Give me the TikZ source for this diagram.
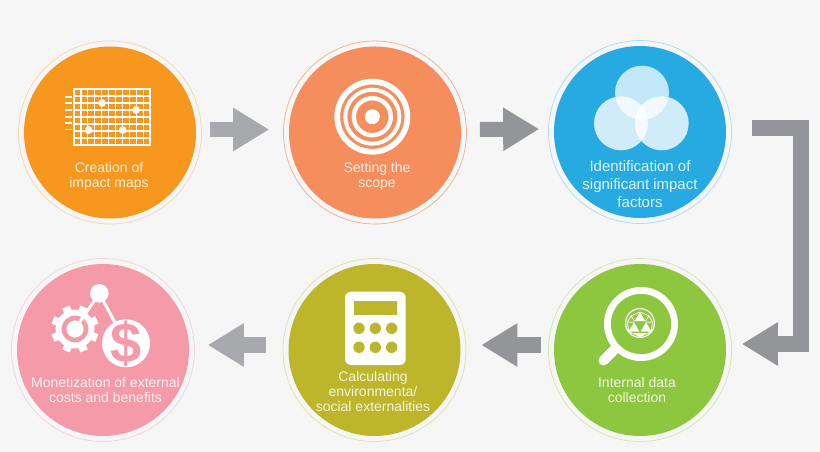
\documentclass[tikz,border=0pt]{standalone}
\usepackage{fontspec}
\setmainfont{Liberation Sans}
\usetikzlibrary{arrows.meta}

\definecolor{pagebg}{HTML}{F6F6F6}
\definecolor{orangefill}{HTML}{F7971D}
\definecolor{orangering}{HTML}{F6D5AC}
\definecolor{salmonfill}{HTML}{F68D5C}
\definecolor{salmonring}{HTML}{F0AE90}
\definecolor{bluefill}{HTML}{27AAE1}
\definecolor{bluering}{HTML}{A9DCF0}
\definecolor{pinkfill}{HTML}{F49AA8}
\definecolor{pinkring}{HTML}{F2D3D8}
\definecolor{olivefill}{HTML}{BDB52A}
\definecolor{olivering}{HTML}{DFDDB0}
\definecolor{greenfill}{HTML}{8DC63F}
\definecolor{greenring}{HTML}{CFE5B0}
\definecolor{arrowlight}{HTML}{A7A9AC}
\definecolor{arrowdark}{HTML}{939598}

\begin{document}
\begin{tikzpicture}[x=1pt, y=-1pt]

%DISTANCE SETTINGS
\tikzstyle{ring}=[circle, inner sep=0pt, minimum size=183pt, line width=.7pt]
\tikzstyle{disc}=[circle, inner sep=0pt, minimum size=172pt]
\tikzstyle{caption}=[text=white, font=\fontsize{14}{15}\selectfont, align=center, inner sep=0pt, opacity=.85]
\tikzstyle{bigarrow}=[line width=16pt, -{Triangle[length=36pt, width=41pt]}]

\useasboundingbox[fill=pagebg] (0,0) rectangle (820,452);

%NODES
\node[ring, draw=orangering] (imap) at (110,132.5) {};
\node[ring, draw=salmonring] (scope) at (375,132.5) {};
\node[ring, draw=bluering] (factor) at (640,132) {};
\node[ring, draw=greenring] (intern) at (640,350) {};
\node[ring, draw=olivering] (calc) at (374.5,350) {};
\node[ring, draw=pinkring] (money) at (103,350) {};

\node[disc, fill=orangefill] (imapdisc) at (imap) {};
\node[disc, fill=salmonfill] (scopedisc) at (scope) {};
\node[disc, fill=bluefill] (factordisc) at (factor) {};
\node[disc, fill=greenfill] (interndisc) at (intern) {};
\node[disc, fill=olivefill] (calcdisc) at (calc) {};
\node[disc, fill=pinkfill] (moneydisc) at (money) {};

%CAPTIONS
\node[caption] (imaptext) at (109,176.5) {Creation of\\impact maps};
\node[caption] (scopetext) at (377,176.5) {Setting the\\scope};
\node[caption, font=\fontsize{15}{18}\selectfont] (factortext) at (640,184) {Identification of\\significant impact\\factors};
\node[caption] (interntext) at (637,389.5) {Internal data\\collection};
\node[caption] (calctext) at (373,391) {Calculating\\environmenta/\\social externalities};
\node[caption] (moneytext) at (105.5,389.5) {Monetization of external\\costs and benefits};

%ARROWS
\coordinate (bendtop) at (801,128);
\coordinate (bendlow) at (801,344);
\draw[bigarrow, arrowlight, line width=15pt, shorten <=8pt, shorten >=14pt] ([yshift=3pt]imap.east) -- ([yshift=3pt]scope.west);
\draw[bigarrow, arrowdark, line width=15pt, shorten <=13pt, shorten >=9pt] ([yshift=3pt]scope.east) -- ([yshift=3pt]factor.west);
\draw[bigarrow, arrowdark, miter limit=4, shorten <=20pt, shorten >=10pt] (factor.east |- bendtop) -- (bendtop) -- (bendlow) -- (intern.east |- bendlow);
\draw[bigarrow, arrowdark, shorten <=7pt, shorten >=15pt] ([yshift=5pt]intern.west) -- ([yshift=5pt]calc.east);
\draw[bigarrow, arrowlight, shorten <=17pt, shorten >=13pt] ([yshift=5pt]calc.west) -- ([yshift=5pt]money.east);

%GRID ICON
\draw[white, line width=1.2pt] (74,89) rectangle (150,145);
\foreach \i in {1,...,10} {
	\draw[white, line width=1.2pt] (74+6.91*\i,89) -- (74+6.91*\i,145);
}
\foreach \i in {1,...,7} {
	\draw[white, line width=1.2pt] (74,89+7*\i) -- (150,89+7*\i);
}
\foreach \y in {96.7,103,110,116.7,123,129.5} {
	\draw[white, line width=1.7pt] (65,\y) -- (71.5,\y);
}
\foreach \x/\y in {102/103,136/110,88.7/130,122.7/130} {
	\fill[white] (\x,\y) circle (3.9);
}

%TARGET ICON
\draw[white, line width=5.7pt] (372.3,116.7) circle (35.1);
\draw[white, line width=4pt] (372.3,116.7) circle (27);
\draw[white, line width=4.4pt] (372.3,116.7) circle (18.5);
\fill[white] (372.3,116.7) circle (7.5);

%VENN ICON
\fill[white, opacity=.72] (642,92.7) circle (27);
\fill[white, opacity=.78] (621,123.3) circle (27);
\fill[white, opacity=.78] (661.7,123.3) circle (27);

%LENS ICON
\draw[white, line width=6.8pt] (641,324) circle (33.6);
\draw[white, line width=10pt, line cap=round] (614,350) -- (603.5,360.5);
\draw[white, line width=1.2pt] (640,323) circle (14.4);
\foreach \x/\y in {640/312,634/322.3,646/322.3} {
	\fill[white] (\x,\y) -- (\x+5.4,\y+9.2) -- (\x-5.4,\y+9.2) -- cycle;
}
\fill[white] (632,333.2) -- (648,333.2) -- (640,337.2) -- cycle;
\draw[white, line width=.8pt] (640,312) -- (631,316) -- (627.5,322) -- (628.6,331) -- (632,333.2);
\draw[white, line width=.8pt] (640,312) -- (649,316) -- (652.5,322) -- (651.4,331) -- (648,333.2);
\draw[white, line width=.8pt] (634.6,321.2) -- (631,316) (645.4,321.2) -- (649,316) (634,322.3) -- (627.5,322) (646,322.3) -- (652.5,322);

%CALCULATOR ICON
\fill[white, rounded corners=6pt] (345,291.7) rectangle (405.7,365);
\fill[olivefill] (354,301) rectangle (396.7,315);
\foreach \x in {359,375.3,391.7} {
	\foreach \y in {328.3,347.3} {
		\fill[olivefill] (\x,\y) circle (5.7);
	}
}

%MONEY ICON
\fill[white] (75,329) circle (19.5);
\foreach \a in {0,45,...,315} {
	\fill[white, rotate around={\a+22.5:(75,329)}] (71,305.3) rectangle (79,315);
}
\fill[pinkfill] (75,329) circle (13.4);
\draw[white, line width=3pt] (75,329) -- (99.3,293.3) -- (126,343.3);
\fill[white] (99.3,293.3) circle (9.3);
\fill[white] (75,329) circle (8.6);
\fill[white] (126,343.3) circle (24);
\node[text=pinkfill, font=\bfseries\fontsize{56}{56}\selectfont, inner sep=0pt] (dollar) at (126,343.3) {\$};

\end{tikzpicture}
\end{document}
